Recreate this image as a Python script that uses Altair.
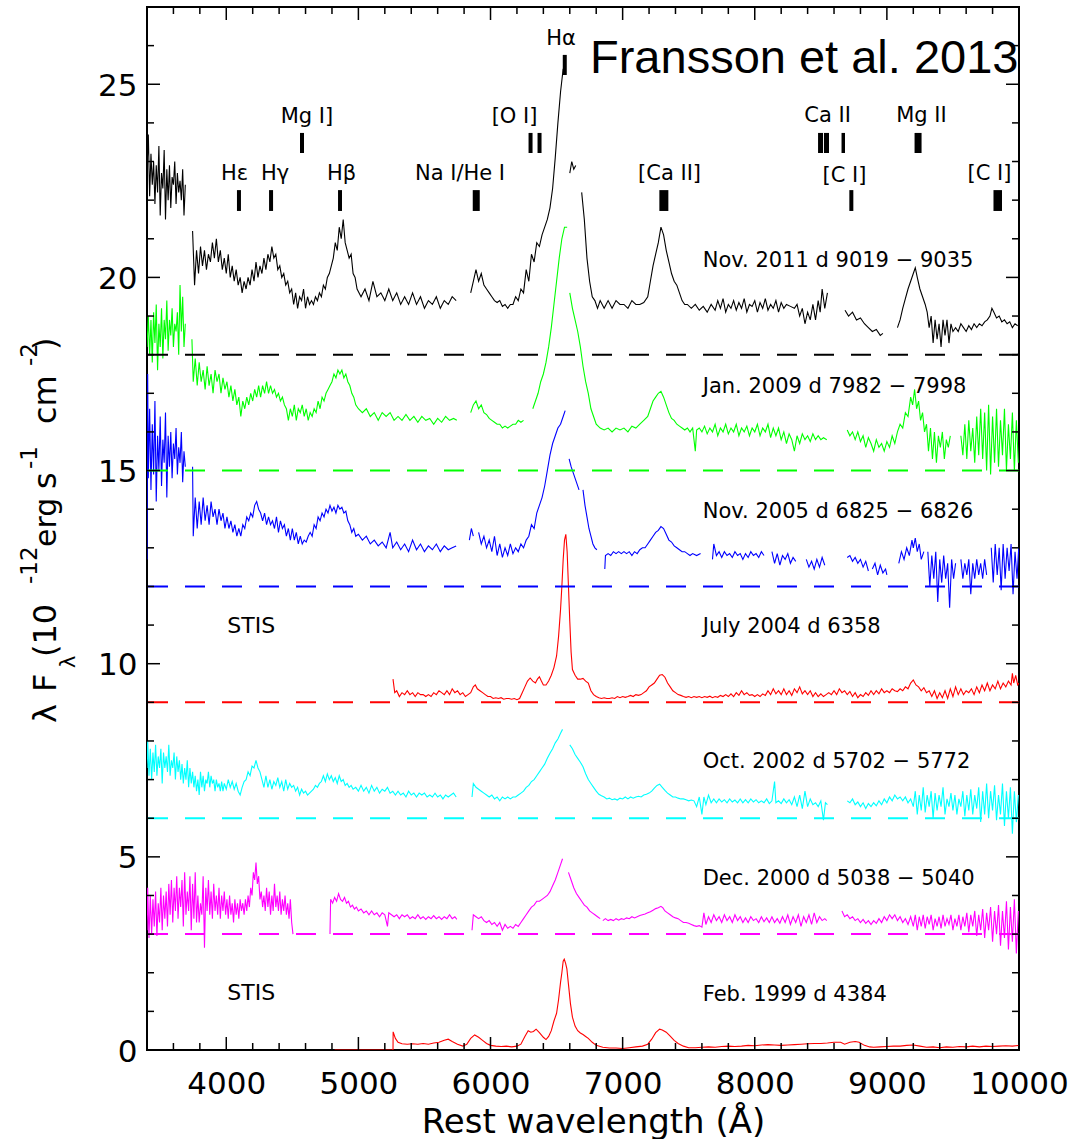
import altair as alt
import pandas as pd

# ---------------- spectra (wavelength, lambda*F_lambda incl. offset); None = gap ----------------
NOV2011 = [(3400,22.8),(3410,23.7),(3420,22.1),(3430,23.2),(3440,22.4),(3450,23.0),(3460,21.9),(3470,22.9),(3480,22.2),(3490,23.4),(3500,21.6),(3510,22.7),(3520,22.3),(3530,23.3),(3540,21.5),(3550,22.8),(3560,22.0),(3570,22.9),(3580,21.8),(3590,22.6),(3600,22.4),(3610,23.0),(3620,21.9),(3630,22.7),(3640,22.2),(3650,22.5),(3660,22.0),(3670,22.8),(3680,21.6),(3690,22.4), None,
(3745,21.2),(3760,19.8),(3775,20.7),(3790,20.1),(3805,20.8),(3820,20.3),(3835,20.7),(3850,20.2),(3865,20.6),(3880,20.4),(3895,20.9),(3910,20.5),(3925,21.0),(3940,20.4),(3955,20.7),(3970,20.2),(3985,20.5),(4000,20.1),(4015,20.6),(4030,20.0),(4045,20.3),(4060,19.9),(4075,20.2),(4090,19.8),(4105,20.0),(4120,19.6),(4135,19.9),(4150,19.7),(4165,20.0),(4180,19.8),(4195,20.2),(4210,19.9),(4225,20.4),(4240,20.0),(4255,20.3),(4270,20.1),(4285,20.5),(4300,20.2),(4315,20.6),(4330,20.4),(4345,20.8),(4360,20.5),(4375,20.6),(4390,20.2),(4405,20.3),(4420,20.0),(4435,20.1),(4450,19.8),(4465,19.9),(4480,19.6),(4495,19.7),(4510,19.3),(4525,19.6),(4540,19.2),(4555,19.5),(4570,19.4),(4585,19.7),(4600,19.2),(4615,19.5),(4630,19.3),(4645,19.4),(4660,19.3),(4675,19.5),(4690,19.4),(4705,19.6),(4720,19.5),(4735,19.8),(4750,19.7),(4765,20.0),(4780,20.1),(4795,20.3),(4810,20.5),(4825,20.9),(4840,20.7),(4855,21.3),(4870,21.0),(4885,21.5),(4900,20.9),(4915,20.7),(4930,20.5),(4945,20.6),(4960,20.1),(4975,20.0),(4990,19.7),(5020,19.5),(5050,19.7),(5080,19.4),(5110,19.9),(5140,19.5),(5170,19.6),(5200,19.4),(5230,19.7),(5260,19.4),(5290,19.6),(5320,19.3),(5350,19.5),(5380,19.3),(5410,19.6),(5440,19.3),(5470,19.5),(5500,19.2),(5530,19.4),(5560,19.3),(5590,19.5),(5620,19.2),(5650,19.4),(5680,19.3),(5710,19.5),(5740,19.4), None,
(5850,19.6),(5870,19.9),(5890,20.2),(5910,19.9),(5930,20.1),(5950,19.8),(5970,19.7),(5990,19.6),(6010,19.5),(6030,19.4),(6050,19.35),(6070,19.4),(6090,19.25),(6110,19.3),(6130,19.2),(6150,19.3),(6170,19.3),(6190,19.5),(6210,19.4),(6230,19.7),(6250,19.6),(6270,20.2),(6290,19.9),(6310,20.6),(6330,20.4),(6350,20.9),(6370,20.8),(6390,21.1),(6410,21.3),(6430,21.5),(6450,21.8),(6470,22.3),(6490,23.1),(6510,24.0),(6530,24.8),(6550,25.4), None,
(6600,22.7),(6615,23.0),(6630,22.8),(6645,22.9), None,
(6690,22.2),(6710,21.5),(6730,20.5),(6750,19.9),(6770,19.5),(6790,19.4),(6810,19.2),(6830,19.4),(6860,19.2),(6890,19.4),(6920,19.2),(6950,19.4),(6980,19.3),(7010,19.3),(7040,19.2),(7070,19.4),(7100,19.3),(7130,19.3),(7160,19.35),(7190,19.5),(7210,19.9),(7230,20.3),(7250,20.6),(7270,20.9),(7290,21.3),(7310,21.1),(7330,20.7),(7350,20.4),(7370,20.1),(7390,19.9),(7410,19.8),(7430,19.6),(7450,19.4),(7470,19.3),(7490,19.3),(7520,19.2),(7550,19.3),(7580,19.15),(7610,19.25),(7640,19.1),(7670,19.3),(7700,19.15),(7720,19.4),(7740,19.2),(7760,19.45),(7780,19.1),(7800,19.3),(7820,19.2),(7840,19.4),(7860,19.15),(7880,19.35),(7900,19.2),(7920,19.45),(7940,19.1),(7960,19.3),(7980,19.25),(8000,19.4),(8020,19.1),(8040,19.35),(8060,19.2),(8080,19.45),(8100,19.15),(8120,19.3),(8140,19.2),(8160,19.4),(8180,19.1),(8200,19.35),(8220,19.2),(8240,19.3),(8270,19.25),(8300,19.2),(8320,19.3),(8340,19.0),(8360,19.2),(8380,18.8),(8400,19.1),(8420,18.9),(8440,19.3),(8460,18.9),(8480,19.4),(8495,19.1),(8510,19.7),(8530,19.2),(8550,19.6), None,
(8683,19.15),(8710,19.0),(8740,19.1),(8770,18.9),(8800,18.95),(8830,18.8),(8860,18.7),(8890,18.6),(8920,18.65),(8950,18.5),(8970,18.55), None,
(9080,18.7),(9100,18.9),(9120,19.2),(9140,19.45),(9160,19.7),(9180,19.9),(9200,20.1),(9215,20.25),(9230,20.0),(9250,19.7),(9270,19.5),(9290,19.3),(9305,19.1),(9320,18.7),(9335,19.0),(9350,18.3),(9365,18.9),(9380,18.4),(9395,18.8),(9410,18.2),(9425,18.9),(9440,18.5),(9455,18.9),(9470,18.3),(9485,18.8),(9500,18.6),(9520,18.7),(9540,18.6),(9560,18.8),(9580,18.7),(9600,18.6),(9620,18.75),(9640,18.65),(9660,18.8),(9680,18.7),(9700,18.8),(9720,18.75),(9740,18.85),(9760,18.9),(9780,19.0),(9795,19.2),(9810,19.1),(9830,18.95),(9850,19.0),(9870,18.85),(9890,18.9),(9910,18.8),(9930,18.85),(9950,18.7),(9970,18.8),(9990,18.75)]

JAN2009 = [(3400,18.2),(3410,19.0),(3420,18.0),(3430,18.9),(3440,17.8),(3450,19.1),(3460,18.3),(3470,19.3),(3480,17.6),(3490,18.8),(3500,18.2),(3510,19.2),(3520,17.9),(3530,18.9),(3540,18.4),(3550,19.4),(3560,18.1),(3570,18.9),(3580,18.5),(3590,19.2),(3600,18.2),(3610,18.8),(3620,18.6),(3630,19.1),(3640,18.0),(3650,19.8),(3660,18.6),(3670,19.5),(3680,18.2),(3690,18.8), None,
(3740,18.4),(3750,17.3),(3765,17.9),(3780,17.2),(3795,17.8),(3810,17.3),(3825,17.6),(3840,17.1),(3855,17.7),(3870,17.2),(3885,17.5),(3900,17.0),(3915,17.6),(3930,17.3),(3945,17.5),(3960,17.0),(3975,17.4),(3990,17.1),(4005,17.3),(4020,16.9),(4035,17.2),(4050,16.8),(4065,17.1),(4080,16.7),(4095,16.9),(4110,16.4),(4125,16.8),(4140,16.6),(4155,16.9),(4170,16.7),(4185,17.0),(4200,16.8),(4215,17.1),(4230,16.9),(4245,17.2),(4260,16.9),(4275,17.2),(4290,17.0),(4305,17.3),(4320,17.0),(4335,17.2),(4350,17.0),(4365,17.1),(4380,16.9),(4395,17.0),(4410,16.8),(4425,16.9),(4440,16.7),(4455,16.6),(4470,16.3),(4485,16.6),(4500,16.4),(4515,16.7),(4530,16.3),(4545,16.6),(4560,16.5),(4575,16.7),(4590,16.4),(4605,16.6),(4620,16.3),(4635,16.5),(4650,16.4),(4665,16.6),(4680,16.5),(4695,16.8),(4710,16.6),(4725,16.9),(4740,16.8),(4755,17.0),(4770,17.1),(4785,17.2),(4800,17.3),(4815,17.5),(4830,17.4),(4845,17.6),(4860,17.5),(4875,17.6),(4890,17.4),(4905,17.5),(4920,17.3),(4935,17.2),(4950,17.0),(4965,16.9),(4980,16.7),(5000,16.6),(5030,16.5),(5060,16.6),(5090,16.4),(5120,16.5),(5150,16.3),(5180,16.5),(5210,16.4),(5240,16.5),(5270,16.3),(5300,16.4),(5330,16.3),(5360,16.45),(5390,16.3),(5420,16.4),(5450,16.25),(5480,16.4),(5510,16.3),(5540,16.35),(5570,16.2),(5600,16.35),(5630,16.25),(5660,16.4),(5690,16.3),(5720,16.35),(5745,16.3), None,
(5850,16.5),(5870,16.7),(5890,16.8),(5910,16.6),(5930,16.7),(5950,16.5),(5970,16.45),(5990,16.35),(6010,16.3),(6030,16.25),(6050,16.2),(6070,16.2),(6090,16.1),(6110,16.15),(6130,16.1),(6150,16.15),(6170,16.2),(6190,16.2),(6210,16.3),(6230,16.25),(6250,16.3), None,
(6320,16.6),(6340,16.8),(6360,17.0),(6380,17.3),(6400,17.5),(6420,17.8),(6440,18.2),(6460,18.7),(6480,19.3),(6500,19.9),(6520,20.5),(6540,21.0),(6560,21.3),(6580,21.3), None,
(6600,19.6),(6620,19.2),(6640,18.9),(6660,18.6),(6680,18.2),(6700,17.7),(6720,17.3),(6740,17.0),(6760,16.6),(6780,16.4),(6800,16.2),(6830,16.1),(6860,16.05),(6890,16.1),(6920,16.0),(6950,16.1),(6980,16.05),(7010,16.1),(7040,16.0),(7070,16.15),(7100,16.1),(7130,16.2),(7160,16.3),(7190,16.4),(7210,16.6),(7230,16.8),(7250,16.9),(7270,17.0),(7290,17.05),(7310,16.9),(7330,16.7),(7350,16.5),(7370,16.35),(7390,16.3),(7410,16.2),(7430,16.15),(7450,16.1),(7470,16.05),(7490,16.1),(7510,16.0),(7530,16.1),(7550,15.5),(7560,16.05),(7580,16.1),(7600,16.0),(7620,16.15),(7640,15.95),(7660,16.1),(7680,16.0),(7700,16.2),(7720,15.9),(7740,16.1),(7760,16.0),(7780,16.2),(7800,15.95),(7820,16.1),(7840,16.0),(7860,16.2),(7880,15.9),(7900,16.1),(7920,16.0),(7940,16.15),(7960,15.9),(7980,16.1),(8000,16.0),(8020,16.2),(8040,15.9),(8060,16.1),(8080,16.0),(8100,16.2),(8120,15.85),(8140,16.1),(8160,15.9),(8180,16.1),(8200,15.8),(8220,16.0),(8240,15.7),(8260,15.95),(8280,15.8),(8300,15.5),(8320,15.9),(8340,15.7),(8360,15.95),(8380,15.8),(8400,15.9),(8420,15.75),(8440,15.95),(8460,15.8),(8480,15.9),(8500,15.8),(8520,15.85),(8545,15.8), None,
(8700,16.05),(8720,15.9),(8740,16.0),(8760,15.8),(8780,16.0),(8800,15.75),(8820,15.9),(8840,15.6),(8860,15.85),(8880,15.7),(8900,15.5),(8920,15.8),(8940,15.6),(8960,15.7),(8980,15.5),(9000,15.75),(9020,15.6),(9040,15.9),(9060,15.7),(9080,16.0),(9100,16.2),(9120,16.1),(9140,16.5),(9160,16.4),(9180,16.9),(9195,16.7),(9210,17.1),(9225,16.6),(9240,16.8),(9255,16.3),(9270,16.5),(9285,16.0),(9300,16.2),(9315,15.5),(9330,16.1),(9345,15.3),(9360,16.0),(9375,15.2),(9390,15.9),(9405,15.6),(9420,16.0),(9435,15.3),(9450,15.8),(9465,15.6),(9480,15.9), None,
(9560,15.9),(9575,15.4),(9590,16.2),(9605,15.3),(9620,16.3),(9635,15.5),(9650,16.1),(9665,15.2),(9680,16.4),(9695,15.4),(9710,16.6),(9725,15.3),(9740,16.5),(9755,15.0),(9770,16.7),(9785,14.9),(9800,16.4),(9815,15.2),(9830,16.6),(9845,15.1),(9860,16.3),(9875,15.4),(9890,16.6),(9905,15.0),(9920,16.2),(9935,15.3),(9950,16.5),(9965,15.0),(9980,16.3),(9995,15.2)]

NOV2005 = [(3400,12.7),(3405,17.5),(3410,14.8),(3420,16.6),(3430,14.5),(3440,16.2),(3450,14.9),(3460,16.8),(3470,14.2),(3480,15.9),(3490,15.0),(3500,16.4),(3510,14.6),(3520,15.8),(3530,15.2),(3540,16.5),(3550,14.3),(3560,15.9),(3570,15.1),(3580,16.0),(3590,14.8),(3600,15.7),(3610,15.3),(3620,16.1),(3630,14.9),(3640,15.6),(3650,15.2),(3660,16.0),(3670,14.7),(3680,15.5),(3690,15.1), None,
(3745,15.1),(3750,13.3),(3765,14.3),(3780,13.5),(3795,14.2),(3810,13.6),(3825,14.3),(3840,13.7),(3855,14.1),(3870,13.6),(3885,14.2),(3900,13.8),(3915,14.0),(3930,13.6),(3945,14.0),(3960,13.7),(3975,13.9),(3990,13.5),(4005,13.8),(4020,13.5),(4035,13.7),(4050,13.4),(4065,13.6),(4080,13.3),(4095,13.5),(4110,13.3),(4125,13.6),(4140,13.5),(4155,13.8),(4170,13.7),(4185,13.9),(4200,13.8),(4215,14.1),(4230,14.2),(4245,14.0),(4260,13.9),(4275,13.7),(4290,13.9),(4305,13.6),(4320,13.8),(4335,13.6),(4350,13.7),(4365,13.5),(4380,13.8),(4395,13.4),(4410,13.7),(4425,13.5),(4440,13.6),(4455,13.3),(4470,13.5),(4485,13.2),(4500,13.5),(4515,13.2),(4530,13.4),(4545,13.1),(4560,13.3),(4575,13.1),(4590,13.2),(4605,13.15),(4620,13.3),(4635,13.4),(4650,13.3),(4665,13.6),(4680,13.5),(4695,13.8),(4710,13.7),(4725,13.9),(4740,13.8),(4755,14.0),(4770,13.9),(4785,14.1),(4800,13.95),(4815,14.05),(4830,13.9),(4845,14.1),(4860,14.0),(4875,14.05),(4890,13.9),(4905,13.95),(4920,13.7),(4935,13.6),(4950,13.4),(4965,13.5),(4980,13.3),(5000,13.35),(5030,13.2),(5060,13.3),(5090,13.1),(5120,13.2),(5150,13.05),(5180,13.15),(5210,13.0),(5240,13.4),(5260,13.0),(5290,13.15),(5320,12.95),(5350,13.1),(5380,12.9),(5410,13.2),(5440,12.95),(5470,13.1),(5500,12.9),(5530,13.05),(5560,12.95),(5590,13.1),(5620,12.9),(5650,13.05),(5680,12.95),(5710,13.0),(5740,13.05), None,
(5840,13.2),(5855,13.5),(5870,13.3), None,
(5910,13.4),(5930,13.1),(5950,13.3),(5970,13.0),(5990,13.2),(6010,12.9),(6030,13.3),(6050,12.8),(6070,13.1),(6090,12.75),(6110,13.0),(6130,12.8),(6150,13.1),(6170,12.85),(6190,13.0),(6210,12.9),(6230,13.1),(6250,13.0),(6270,13.2),(6290,13.3),(6310,13.6),(6330,13.5),(6350,13.9),(6370,14.1),(6390,14.3),(6410,14.6),(6430,15.0),(6450,15.4),(6470,15.7),(6490,15.9),(6510,16.1),(6530,16.2),(6550,16.4),(6565,16.55), None,
(6595,15.3),(6610,15.1),(6630,14.9),(6650,14.7),(6670,14.5), None,
(6700,14.5),(6715,14.1),(6730,13.8),(6745,13.5),(6760,13.3),(6775,13.1),(6790,13.0),(6805,12.95), None,
(6865,12.45),(6870,12.8),(6890,12.85),(6910,12.8),(6930,12.9),(6950,12.85),(6970,12.9),(6990,12.85),(7010,12.9),(7030,12.85),(7050,12.9),(7070,12.8),(7090,12.9),(7110,12.85),(7130,12.95),(7150,13.0),(7170,13.0),(7190,13.1),(7210,13.2),(7230,13.3),(7250,13.4),(7270,13.45),(7290,13.55),(7310,13.5),(7330,13.35),(7350,13.2),(7370,13.15),(7390,13.05),(7410,13.0),(7430,12.95),(7450,12.9),(7470,12.9),(7490,12.85),(7510,12.8),(7530,12.85),(7560,12.8),(7590,12.85), None,
(7680,12.7),(7690,13.1),(7710,12.8),(7730,12.9),(7750,12.75),(7770,12.9),(7790,12.8),(7810,12.85),(7830,12.75),(7850,12.9),(7870,12.8),(7890,12.85),(7910,12.7),(7930,12.85),(7950,12.75),(7970,12.9),(7990,12.8),(8010,12.85),(8030,12.75),(8050,12.9),(8070,12.8), None,
(8130,12.9),(8150,12.6),(8170,12.85),(8190,12.55),(8210,12.8),(8230,12.7),(8250,12.85),(8270,12.6),(8290,12.75),(8310,12.65), None,
(8390,12.7),(8410,12.5),(8430,12.65),(8450,12.45),(8470,12.7),(8490,12.5),(8510,12.75),(8530,12.55), None,
(8700,12.75),(8720,12.8),(8740,12.65),(8760,12.75),(8780,12.6),(8800,12.7),(8820,12.5),(8840,12.65),(8860,12.4), None,
(8890,12.45),(8910,12.6),(8930,12.3),(8950,12.55),(8970,12.35),(8990,12.45),(9000,12.3), None,
(9090,12.6),(9110,12.9),(9130,12.7),(9150,13.0),(9170,12.8),(9190,13.2),(9200,13.0),(9215,13.25),(9230,12.9),(9245,13.1),(9260,12.7),(9280,12.9), None,
(9310,12.9),(9325,12.0),(9340,12.8),(9355,12.2),(9370,12.9),(9385,11.6),(9400,12.7),(9415,12.1),(9430,12.8),(9445,12.2),(9460,12.6),(9475,11.45),(9490,12.7),(9505,12.2),(9520,12.6), None,
(9560,12.7),(9575,12.2),(9590,12.6),(9605,12.3),(9620,12.7),(9635,11.8),(9650,12.6),(9665,12.2),(9680,12.7),(9695,12.3),(9710,12.6),(9725,12.2),(9740,12.7),(9755,12.3), None,
(9790,13.0),(9805,12.1),(9820,13.1),(9835,12.3),(9850,13.0),(9865,11.9),(9880,13.1),(9895,12.2),(9910,13.0),(9925,12.4),(9940,13.1),(9955,11.8),(9970,12.9),(9985,12.2),(9998,13.0)]

JULY2004 = [(5262,9.6),(5275,9.25),(5290,9.3),(5310,9.15),(5330,9.25),(5350,9.2),(5370,9.3),(5390,9.2),(5410,9.25),(5430,9.15),(5450,9.25),(5470,9.2),(5490,9.2),(5510,9.15),(5530,9.2),(5550,9.15),(5570,9.25),(5590,9.2),(5610,9.3),(5630,9.25),(5650,9.2),(5670,9.3),(5690,9.2),(5710,9.35),(5730,9.25),(5750,9.3),(5770,9.2),(5790,9.25),(5810,9.15),(5830,9.2),(5850,9.25),(5870,9.4),(5885,9.45),(5900,9.35),(5920,9.3),(5940,9.25),(5960,9.2),(5980,9.15),(6000,9.15),(6020,9.1),(6040,9.12),(6060,9.1),(6080,9.12),(6100,9.08),(6120,9.1),(6140,9.1),(6160,9.08),(6180,9.1),(6200,9.07),(6220,9.1),(6240,9.25),(6260,9.4),(6280,9.55),(6300,9.63),(6320,9.55),(6340,9.5),(6355,9.6),(6370,9.66),(6385,9.55),(6400,9.45),(6420,9.45),(6440,9.55),(6460,9.7),(6480,9.9),(6500,10.2),(6515,10.7),(6530,11.4),(6540,12.0),(6550,12.7),(6560,13.2),(6570,13.35),(6580,12.9),(6590,12.0),(6600,11.1),(6610,10.3),(6620,9.85),(6640,9.7),(6660,9.6),(6680,9.6),(6700,9.62),(6720,9.55),(6740,9.5),(6760,9.3),(6780,9.2),(6800,9.15),(6820,9.12),(6840,9.1),(6860,9.12),(6880,9.1),(6900,9.1),(6920,9.12),(6940,9.1),(6960,9.15),(6980,9.12),(7000,9.15),(7020,9.13),(7040,9.15),(7060,9.18),(7080,9.15),(7100,9.2),(7120,9.18),(7140,9.2),(7160,9.25),(7180,9.3),(7200,9.4),(7220,9.45),(7240,9.5),(7260,9.6),(7280,9.7),(7300,9.72),(7320,9.65),(7340,9.5),(7360,9.4),(7380,9.3),(7400,9.25),(7420,9.2),(7440,9.18),(7460,9.15),(7480,9.13),(7500,9.15),(7520,9.12),(7540,9.15),(7560,9.13),(7580,9.15),(7600,9.12),(7620,9.15),(7640,9.13),(7660,9.16),(7680,9.12),(7700,9.15),(7720,9.13),(7740,9.18),(7760,9.15),(7780,9.2),(7800,9.15),(7820,9.22),(7840,9.15),(7860,9.25),(7880,9.18),(7900,9.3),(7920,9.2),(7940,9.25),(7960,9.18),(7980,9.2),(8000,9.15),(8020,9.2),(8040,9.15),(8060,9.22),(8080,9.18),(8100,9.3),(8120,9.2),(8140,9.35),(8160,9.22),(8180,9.3),(8200,9.2),(8220,9.35),(8240,9.2),(8260,9.3),(8280,9.18),(8300,9.35),(8320,9.25),(8340,9.4),(8360,9.22),(8380,9.3),(8400,9.2),(8420,9.3),(8440,9.15),(8460,9.25),(8480,9.15),(8500,9.22),(8520,9.15),(8540,9.2),(8560,9.25),(8580,9.2),(8600,9.3),(8620,9.2),(8640,9.35),(8660,9.25),(8680,9.3),(8700,9.2),(8720,9.28),(8740,9.15),(8760,9.25),(8780,9.12),(8800,9.2),(8820,9.15),(8840,9.25),(8860,9.18),(8880,9.3),(8900,9.2),(8920,9.3),(8940,9.22),(8960,9.35),(8980,9.25),(9000,9.3),(9020,9.25),(9040,9.35),(9060,9.3),(9080,9.28),(9100,9.35),(9120,9.3),(9140,9.4),(9160,9.35),(9180,9.5),(9200,9.58),(9220,9.45),(9240,9.4),(9260,9.3),(9280,9.38),(9300,9.25),(9320,9.3),(9340,9.15),(9360,9.3),(9380,9.1),(9400,9.25),(9420,9.12),(9440,9.3),(9460,9.1),(9480,9.35),(9500,9.15),(9520,9.4),(9540,9.2),(9560,9.35),(9580,9.2),(9600,9.3),(9620,9.25),(9640,9.35),(9660,9.2),(9680,9.4),(9700,9.25),(9720,9.45),(9740,9.3),(9760,9.5),(9780,9.3),(9800,9.45),(9820,9.35),(9840,9.55),(9860,9.35),(9880,9.5),(9900,9.4),(9920,9.55),(9940,9.45),(9950,9.75),(9960,9.5),(9975,9.7),(9990,9.45),(10000,9.5)]

OCT2002 = [(3400,7.3),(3405,8.0),(3415,7.1),(3425,7.8),(3435,7.0),(3445,7.7),(3455,7.2),(3465,7.9),(3475,7.1),(3485,7.6),(3495,7.3),(3505,7.8),(3515,6.9),(3525,7.7),(3535,7.3),(3545,7.6),(3555,7.2),(3565,7.9),(3575,7.1),(3585,7.5),(3595,7.3),(3605,7.7),(3615,7.0),(3625,7.6),(3635,7.2),(3645,7.5),(3655,7.0),(3665,7.4),(3675,6.9),(3685,7.3),(3695,7.0),(3705,7.5),(3715,6.8),(3725,7.3),(3735,6.9),(3745,7.2),(3755,6.8),(3765,7.1),(3775,6.7),(3785,7.0),(3795,6.6),(3805,7.2),(3815,6.8),(3825,7.1),(3835,6.7),(3845,7.0),(3855,6.9),(3865,7.2),(3875,6.8),(3885,7.1),(3895,6.9),(3905,7.0),(3915,6.7),(3925,7.0),(3935,6.8),(3945,6.9),(3955,6.7),(3965,6.95),(3975,6.7),(3985,6.9),(4000,6.75),(4015,7.0),(4030,6.8),(4045,6.95),(4060,6.75),(4075,6.9),(4090,6.7),(4105,6.6),(4120,6.8),(4135,6.95),(4150,7.0),(4165,7.2),(4180,7.1),(4195,7.35),(4210,7.3),(4225,7.5),(4240,7.3),(4255,7.2),(4270,7.0),(4285,6.8),(4300,7.1),(4315,6.8),(4330,7.0),(4345,6.75),(4360,6.95),(4375,6.85),(4390,7.05),(4405,6.8),(4420,6.95),(4435,6.7),(4450,7.0),(4465,6.75),(4480,6.9),(4495,6.8),(4510,6.85),(4525,6.7),(4540,6.8),(4555,6.6),(4570,6.75),(4585,6.65),(4600,6.7),(4615,6.6),(4630,6.65),(4645,6.7),(4660,6.75),(4675,6.85),(4690,6.8),(4705,6.9),(4720,6.95),(4735,7.1),(4750,6.95),(4765,7.15),(4780,7.0),(4795,7.1),(4810,6.95),(4825,7.05),(4840,6.9),(4855,7.1),(4870,6.95),(4885,7.0),(4900,6.85),(4915,6.9),(4930,6.8),(4945,6.85),(4960,6.75),(4980,6.8),(5000,6.7),(5020,6.85),(5040,6.7),(5060,6.8),(5080,6.65),(5100,6.85),(5120,6.7),(5140,6.8),(5160,6.65),(5180,6.75),(5200,6.7),(5220,6.8),(5240,6.65),(5260,6.7),(5280,6.6),(5300,6.7),(5320,6.6),(5340,6.65),(5360,6.55),(5380,6.7),(5400,6.6),(5420,6.65),(5440,6.55),(5460,6.65),(5480,6.6),(5500,6.65),(5520,6.55),(5540,6.6),(5560,6.55),(5580,6.65),(5600,6.55),(5620,6.6),(5640,6.5),(5660,6.6),(5680,6.55),(5700,6.6),(5720,6.65),(5740,6.55), None,
(5860,6.55),(5870,6.9),(5890,6.8),(5910,6.75),(5930,6.7),(5950,6.65),(5970,6.6),(5990,6.55),(6010,6.6),(6030,6.5),(6050,6.55),(6070,6.45),(6090,6.55),(6110,6.5),(6130,6.55),(6150,6.5),(6170,6.55),(6190,6.55),(6210,6.6),(6230,6.65),(6250,6.7),(6270,6.8),(6290,6.85),(6310,6.95),(6330,7.0),(6350,7.1),(6370,7.2),(6390,7.3),(6410,7.4),(6430,7.55),(6450,7.68),(6470,7.8),(6490,7.95),(6510,8.05),(6530,8.2),(6545,8.3), None,
(6600,7.9),(6620,7.8),(6640,7.65),(6660,7.55),(6680,7.45),(6700,7.33),(6720,7.15),(6740,7.0),(6760,6.9),(6780,6.8),(6800,6.7),(6820,6.62),(6840,6.58),(6860,6.55),(6880,6.5),(6900,6.52),(6920,6.48),(6940,6.5),(6960,6.47),(6980,6.52),(7000,6.5),(7020,6.55),(7040,6.5),(7060,6.55),(7080,6.52),(7100,6.55),(7120,6.57),(7140,6.55),(7160,6.6),(7180,6.62),(7200,6.65),(7220,6.7),(7240,6.78),(7260,6.85),(7280,6.88),(7300,6.8),(7320,6.72),(7340,6.65),(7360,6.6),(7380,6.55),(7400,6.55),(7420,6.52),(7440,6.5),(7460,6.5),(7480,6.48),(7500,6.45),(7520,6.47),(7540,6.45),(7560,6.3),(7580,6.55),(7600,6.1),(7615,6.55),(7630,6.35),(7650,6.6),(7670,6.4),(7690,6.5),(7710,6.4),(7730,6.5),(7750,6.42),(7770,6.48),(7790,6.4),(7810,6.5),(7830,6.42),(7850,6.47),(7870,6.4),(7890,6.5),(7910,6.4),(7930,6.48),(7950,6.4),(7970,6.5),(7990,6.42),(8010,6.48),(8030,6.4),(8050,6.45),(8070,6.4),(8090,6.5),(8110,6.38),(8130,6.45),(8150,6.95),(8160,6.4),(8180,6.45),(8200,6.38),(8220,6.5),(8240,6.4),(8260,6.48),(8280,6.35),(8300,6.55),(8320,6.3),(8340,6.6),(8360,6.25),(8380,6.7),(8400,6.3),(8420,6.5),(8440,6.35),(8460,6.4),(8480,6.3),(8500,6.45),(8520,5.95),(8535,6.4),(8550,6.35), None,
(8700,6.45),(8720,6.4),(8740,6.5),(8760,6.35),(8780,6.42),(8800,6.3),(8820,6.4),(8840,6.25),(8860,6.38),(8880,6.3),(8900,6.4),(8920,6.32),(8940,6.45),(8960,6.35),(8980,6.5),(9000,6.4),(9020,6.55),(9040,6.45),(9060,6.6),(9080,6.5),(9100,6.55),(9120,6.45),(9140,6.55),(9160,6.4),(9180,6.5),(9200,6.3),(9215,6.7),(9230,6.1),(9245,6.6),(9260,6.2),(9275,6.8),(9290,6.15),(9305,6.6),(9320,6.3),(9335,6.7),(9350,6.0),(9365,6.65),(9380,6.2),(9395,6.6),(9410,6.3),(9425,6.8),(9440,6.1),(9455,6.5),(9470,6.3),(9485,6.65),(9500,6.2),(9515,6.6),(9530,6.1),(9545,6.5),(9560,6.3),(9575,6.7),(9590,6.05),(9605,6.6),(9620,6.2),(9635,6.75),(9650,6.1),(9665,6.6),(9680,6.25),(9695,6.8),(9710,5.9),(9725,6.7),(9740,6.1),(9755,6.9),(9770,6.0),(9785,6.7),(9800,6.2),(9815,6.85),(9830,5.95),(9845,6.6),(9860,6.1),(9875,6.9),(9890,5.8),(9905,6.7),(9920,6.0),(9935,6.8),(9950,5.6),(9965,6.7),(9980,5.9),(9995,6.6)]

DEC2000 = [(3400,3.1),(3405,4.2),(3415,2.9),(3425,4.0),(3435,3.0),(3445,3.9),(3455,3.2),(3465,4.1),(3475,2.95),(3485,3.8),(3495,3.3),(3505,4.2),(3515,3.1),(3525,4.0),(3535,3.4),(3545,4.1),(3555,3.2),(3565,4.3),(3575,3.5),(3585,4.4),(3595,3.3),(3605,4.2),(3615,3.6),(3625,4.5),(3635,3.4),(3645,4.2),(3655,3.7),(3665,4.4),(3675,3.2),(3685,4.6),(3695,3.5),(3705,4.1),(3715,3.6),(3725,4.5),(3735,3.1),(3745,4.3),(3755,3.4),(3765,4.6),(3775,3.3),(3785,4.0),(3795,3.3),(3805,3.8),(3815,3.5),(3825,4.5),(3835,2.65),(3845,4.2),(3855,3.6),(3865,4.4),(3875,3.5),(3885,4.1),(3895,3.4),(3905,4.3),(3915,3.6),(3925,4.0),(3935,3.5),(3945,4.2),(3955,3.4),(3965,4.0),(3975,3.6),(3985,4.1),(3995,3.5),(4005,3.9),(4015,3.4),(4025,4.0),(4035,3.5),(4045,3.8),(4055,3.3),(4065,3.9),(4075,3.5),(4085,3.8),(4095,3.4),(4105,3.9),(4115,3.6),(4125,3.8),(4135,3.5),(4145,3.9),(4155,3.6),(4165,4.0),(4175,3.7),(4185,4.2),(4195,4.0),(4205,4.6),(4215,4.4),(4225,4.85),(4235,4.3),(4245,4.5),(4255,3.9),(4265,4.1),(4275,3.7),(4285,4.0),(4295,3.6),(4305,4.2),(4315,3.7),(4325,4.1),(4335,3.5),(4345,4.0),(4355,3.6),(4365,4.3),(4375,3.7),(4385,4.0),(4395,3.6),(4405,4.1),(4415,3.5),(4425,3.9),(4435,3.6),(4445,4.0),(4455,3.5),(4465,3.8),(4475,3.4),(4485,3.9),(4495,3.3),(4505,3.0), None,
(4785,3.0),(4790,3.9),(4805,3.8),(4820,3.95),(4835,3.85),(4850,4.05),(4865,3.9),(4880,3.85),(4895,3.95),(4910,3.8),(4925,3.85),(4940,3.7),(4955,3.75),(4970,3.65),(4985,3.7),(5000,3.6),(5020,3.65),(5040,3.55),(5060,3.6),(5080,3.5),(5100,3.6),(5120,3.5),(5140,3.55),(5160,3.45),(5180,3.55),(5200,3.5),(5220,3.2),(5230,3.55),(5250,3.5),(5270,3.45),(5290,3.5),(5310,3.4),(5330,3.5),(5350,3.45),(5370,3.5),(5390,3.4),(5410,3.45),(5430,3.4),(5450,3.5),(5470,3.4),(5490,3.45),(5510,3.38),(5530,3.45),(5550,3.4),(5570,3.48),(5590,3.4),(5610,3.45),(5630,3.38),(5650,3.45),(5670,3.4),(5690,3.5),(5710,3.4),(5730,3.45),(5745,3.38), None,
(5860,3.1),(5870,3.5),(5890,3.45),(5910,3.4),(5930,3.45),(5950,3.35),(5970,3.3),(5990,3.35),(6010,3.25),(6030,3.3),(6050,3.2),(6070,3.3),(6090,3.1),(6110,3.25),(6130,3.15),(6150,3.2),(6170,3.15),(6190,3.25),(6210,3.2),(6230,3.3),(6250,3.4),(6270,3.5),(6290,3.6),(6310,3.7),(6330,3.75),(6350,3.85),(6370,3.85),(6390,3.9),(6410,3.95),(6430,4.0),(6450,4.1),(6470,4.25),(6490,4.4),(6510,4.6),(6530,4.8),(6545,4.95), None,
(6590,4.6),(6610,4.4),(6630,4.2),(6650,4.05),(6670,3.95),(6690,3.85),(6710,3.75),(6730,3.7),(6750,3.6),(6770,3.55),(6790,3.5),(6810,3.45),(6830,3.4), None,
(6850,3.35),(6870,3.4),(6890,3.35),(6910,3.38),(6930,3.35),(6950,3.4),(6970,3.36),(6990,3.4),(7010,3.38),(7030,3.42),(7050,3.4),(7070,3.45),(7090,3.42),(7110,3.45),(7130,3.48),(7150,3.5),(7170,3.52),(7190,3.55),(7210,3.58),(7230,3.62),(7250,3.66),(7270,3.68),(7290,3.72),(7305,3.68),(7320,3.6),(7340,3.55),(7360,3.5),(7380,3.45),(7400,3.42),(7420,3.4),(7440,3.35),(7460,3.3),(7480,3.3),(7500,3.28),(7520,3.25),(7540,3.22),(7560,3.2),(7580,3.22),(7600,3.18),(7615,3.55),(7630,3.25),(7650,3.45),(7670,3.3),(7690,3.5),(7710,3.35),(7730,3.45),(7750,3.3),(7770,3.5),(7790,3.35),(7810,3.45),(7830,3.3),(7850,3.5),(7870,3.35),(7890,3.45),(7910,3.3),(7930,3.42),(7950,3.3),(7970,3.45),(7990,3.35),(8010,3.4),(8030,3.3),(8050,3.45),(8070,3.32),(8090,3.42),(8110,3.3),(8130,3.45),(8150,3.3),(8170,3.4),(8190,3.28),(8210,3.45),(8230,3.3),(8250,3.5),(8270,3.25),(8290,3.45),(8310,3.3),(8330,3.5),(8350,3.2),(8370,3.45),(8390,3.3),(8410,3.5),(8430,3.25),(8450,3.55),(8470,3.3),(8490,3.45),(8510,3.35),(8530,3.4),(8545,3.35), None,
(8660,3.6),(8680,3.45),(8700,3.5),(8720,3.4),(8740,3.45),(8760,3.35),(8780,3.4),(8800,3.3),(8820,3.38),(8840,3.28),(8860,3.35),(8880,3.25),(8900,3.35),(8920,3.28),(8940,3.4),(8960,3.3),(8980,3.45),(9000,3.35),(9020,3.5),(9040,3.4),(9060,3.5),(9080,3.35),(9100,3.45),(9120,3.3),(9140,3.4),(9160,3.25),(9180,3.45),(9200,3.2),(9215,3.5),(9230,3.1),(9245,3.45),(9260,3.2),(9275,3.5),(9290,3.15),(9305,3.45),(9320,3.25),(9335,3.5),(9350,3.1),(9365,3.4),(9380,3.2),(9395,3.45),(9410,3.15),(9425,3.5),(9440,3.2),(9455,3.4),(9470,3.25),(9485,3.5),(9500,3.1),(9515,3.4),(9530,3.2),(9545,3.5),(9560,3.1),(9575,3.45),(9590,3.2),(9605,3.55),(9620,3.05),(9635,3.5),(9650,3.2),(9665,3.6),(9680,2.95),(9695,3.5),(9710,3.1),(9725,3.65),(9740,2.9),(9755,3.55),(9770,3.1),(9785,3.7),(9800,2.8),(9815,3.6),(9830,3.0),(9845,3.75),(9860,2.7),(9875,3.6),(9890,2.9),(9905,3.85),(9920,2.6),(9935,3.7),(9950,2.8),(9965,3.9),(9980,2.5),(9995,3.6)]

FEB1999 = [(4820,0.0),(5000,0.0),(5262,0.0),(5263,0.47),(5280,0.3),(5300,0.2),(5330,0.16),(5370,0.15),(5410,0.16),(5450,0.15),(5490,0.17),(5530,0.15),(5570,0.18),(5610,0.2),(5650,0.25),(5680,0.28),(5710,0.22),(5750,0.15),(5790,0.1),(5820,0.15),(5850,0.3),(5880,0.39),(5910,0.33),(5940,0.25),(5970,0.17),(6000,0.12),(6040,0.1),(6080,0.09),(6120,0.1),(6160,0.08),(6200,0.1),(6230,0.15),(6260,0.35),(6285,0.5),(6305,0.46),(6325,0.48),(6345,0.54),(6370,0.45),(6400,0.33),(6420,0.27),(6440,0.35),(6460,0.5),(6480,0.75),(6500,0.95),(6515,1.3),(6530,1.75),(6540,2.0),(6550,2.3),(6558,2.35),(6568,2.25),(6578,2.1),(6590,1.7),(6605,1.2),(6620,0.85),(6640,0.62),(6660,0.5),(6680,0.44),(6700,0.4),(6720,0.35),(6740,0.3),(6770,0.2),(6800,0.12),(6850,0.07),(6900,0.05),(6950,0.05),(7000,0.04),(7050,0.06),(7100,0.08),(7150,0.1),(7190,0.15),(7220,0.28),(7250,0.45),(7280,0.54),(7300,0.52),(7330,0.46),(7360,0.36),(7390,0.25),(7420,0.17),(7460,0.1),(7500,0.06),(7550,0.06),(7600,0.07),(7650,0.08),(7700,0.07),(7750,0.09),(7800,0.1),(7850,0.09),(7900,0.1),(7950,0.12),(8000,0.11),(8050,0.13),(8100,0.14),(8150,0.13),(8200,0.12),(8250,0.13),(8300,0.14),(8350,0.15),(8400,0.16),(8450,0.17),(8500,0.17),(8550,0.18),(8600,0.2),(8650,0.2),(8680,0.15),(8720,0.2),(8760,0.22),(8790,0.2),(8830,0.12),(8870,0.08),(8900,0.07),(8950,0.08),(9000,0.09),(9050,0.1),(9100,0.1),(9150,0.12),(9200,0.13),(9250,0.1),(9300,0.07),(9350,0.08),(9400,0.06),(9450,0.08),(9500,0.07),(9550,0.09),(9600,0.08),(9650,0.1),(9700,0.08),(9750,0.1),(9800,0.09),(9850,0.1),(9900,0.11),(9950,0.1),(10000,0.12)]

SERIES_NAMES = ["Feb. 1999", "Dec. 2000", "Oct. 2002", "July 2004", "Nov. 2005", "Jan. 2009", "Nov. 2011"]
SERIES_COLORS = ["#ff0000", "#ff00ff", "#00ffff", "#ff0000", "#0000ff", "#00ff00", "#000000"]
SERIES_DATA = [FEB1999, DEC2000, OCT2002, JULY2004, NOV2005, JAN2009, NOV2011]

# dashed zero-levels of the offset spectra
BASE_LEVELS = [3, 6, 9, 12, 15, 18]
BASE_COLORS = ["#ff00ff", "#00ffff", "#ff0000", "#0000ff", "#00ff00", "#000000"]

# spectral date labels
DATE_TEXT = ["Nov. 2011 d 9019 \u2212 9035", "Jan. 2009 d 7982 \u2212 7998", "Nov. 2005 d 6825 \u2212 6826",
             "July 2004 d 6358", "Oct. 2002 d 5702 \u2212 5772", "Dec. 2000 d 5038 \u2212 5040", "Feb. 1999 d 4384"]
DATE_Y = [20.28, 17.01, 13.77, 10.79, 7.30, 4.27, 1.28]
DATE_WL = 7606
STIS_Y = [10.79, 1.29]
STIS_WL = 4008

# line identifications
ID_WL = [4096, 4339, 4573, 4861, 5892, 6303, 6371, 6562, 7312, 8498, 8543, 8670, 8731, 9236, 9839]
ID_ROW = ["lo", "lo", "up", "lo", "lo", "up", "up", "ha", "lo", "up", "up", "up", "lo", "up", "lo"]
ID_WIDTH = [4, 4, 4, 4, 7, 4, 4, 4, 9, 5, 5, 3.5, 4, 7, 8.5]
ROW_Y0 = {"lo": 21.72, "up": 23.22, "ha": 25.24}
ROW_Y1 = {"lo": 22.26, "up": 23.74, "ha": 25.76}

ID_LABELS = ["H\u03b5", "H\u03b3", "Mg I]", "H\u03b2", "Na I/He I", "[O I]", "H\u03b1", "[Ca II]",
             "Ca II", "[C I]", "Mg II", "[C I]"]
ID_LABEL_WL = [4062, 4369, 4611, 4872, 5769, 6182, 6534, 7355, 8551, 8679, 9262, 9777]
ID_LABEL_Y = [22.52, 22.52, 24.0, 22.52, 22.52, 24.0, 26.02, 22.52, 24.02, 22.47, 24.02, 22.52]

# axis ticks
X_LABELS = [4000, 5000, 6000, 7000, 8000, 9000, 10000]
X_MINOR = [w for w in range(3600, 10000, 200) if w % 1000 != 0]
Y_LABELS = [0, 5, 10, 15, 20, 25]
Y_MINOR = [v for v in range(1, 27) if v % 5 != 0]

# ---------------- build tables ----------------
rows = []
for name, pts in zip(SERIES_NAMES, SERIES_DATA):
    seg = 0
    for p in pts:
        if p is None:
            seg += 1
            continue
        rows.append({"series": name, "seg": f"{name}-{seg}", "wl": p[0], "flux": p[1]})
spec = pd.DataFrame(rows)

base_df = pd.DataFrame({"flux": BASE_LEVELS, "c": BASE_COLORS})
ids_df = pd.DataFrame({"wl": ID_WL, "flux": [ROW_Y0[r] for r in ID_ROW],
                       "y1": [ROW_Y1[r] for r in ID_ROW], "w": ID_WIDTH})
idlab_df = pd.DataFrame({"wl": ID_LABEL_WL, "flux": ID_LABEL_Y, "t": ID_LABELS})
date_df = pd.DataFrame({"wl": [DATE_WL] * len(DATE_TEXT), "flux": DATE_Y, "t": DATE_TEXT})
stis_df = pd.DataFrame({"wl": [STIS_WL] * 2, "flux": STIS_Y, "t": ["STIS", "STIS"]})

W, H = 872, 1043
xs = alt.Scale(domain=[3400, 10000], nice=False, zero=False)
ys = alt.Scale(domain=[0, 27], nice=False, zero=False)
FONT = "DejaVu Sans"

xaxis = alt.Axis(values=X_LABELS, format="d", labelFont=FONT, labelFontSize=31, labelColor="black",
                 ticks=False, tickSize=0, domain=False, grid=False, labelPadding=43,
                 labelBaseline="alphabetic", labelOverlap=False, labelFlush=False,
                 title="Rest wavelength (\u00c5)", titleFont=FONT, titleFontSize=34,
                 titleFontWeight="normal", titleColor="black", titleX=446, titleY=82,
                 titleBaseline="alphabetic", titleAlign="center", titleAnchor="start")
yaxis = alt.Axis(values=Y_LABELS, format="d", labelFont=FONT, labelFontSize=31, labelColor="black",
                 ticks=False, tickSize=0, domain=False, grid=False, labelPadding=10,
                 labelBaseline="middle", labelOverlap=False, labelFlush=False, labelOffset=2, title="")

X = alt.X("wl:Q", scale=xs, axis=xaxis)
Y = alt.Y("flux:Q", scale=ys, axis=yaxis)

baselines = alt.Chart(base_df).mark_rule(strokeDash=[20, 17], strokeWidth=2).encode(
    y=Y, color=alt.Color("c:N", scale=None))

lines = alt.Chart(spec).mark_line(strokeWidth=1.1, clip=True).encode(
    x=X, y=Y,
    color=alt.Color("series:N", scale=alt.Scale(domain=SERIES_NAMES, range=SERIES_COLORS), legend=None),
    detail="seg:N",
)

idmarks = alt.Chart(ids_df).mark_rule(color="black").encode(
    x=X, y=Y, y2="y1:Q", strokeWidth=alt.StrokeWidth("w:Q", scale=None))

idlabels = alt.Chart(idlab_df).mark_text(font=FONT, fontSize=21, color="black", align="center",
                                          baseline="alphabetic").encode(x=X, y=Y, text="t:N")

datelabels = alt.Chart(date_df).mark_text(font=FONT, fontSize=21, color="black", align="left",
                                           baseline="alphabetic").encode(x=X, y=Y, text="t:N")

stislabels = alt.Chart(stis_df).mark_text(font=FONT, fontSize=22, color="black", align="left",
                                           baseline="alphabetic").encode(x=X, y=Y, text="t:N")

# inward ticks on all four sides
def xticks(vals, length):
    d = pd.DataFrame({"wl": vals})
    bot = alt.Chart(d).mark_rule(color="black", strokeWidth=1.5).encode(
        x=X, y=alt.value(H), y2=alt.value(H - length))
    top = alt.Chart(d).mark_rule(color="black", strokeWidth=1.5).encode(
        x=X, y=alt.value(0), y2=alt.value(length))
    return [bot, top]

def yticks(vals, length):
    d = pd.DataFrame({"flux": vals})
    left = alt.Chart(d).mark_rule(color="black", strokeWidth=1.5).encode(
        y=Y, x=alt.value(0), x2=alt.value(length))
    right = alt.Chart(d).mark_rule(color="black", strokeWidth=1.5).encode(
        y=Y, x=alt.value(W), x2=alt.value(W - length))
    return [left, right]

tick_layers = xticks(X_LABELS, 13) + xticks(X_MINOR, 7) + yticks(Y_LABELS, 13) + yticks(Y_MINOR, 7)

one = pd.DataFrame({"k": [0]})
LEFT, TOP = 147, 7

def free_text(txt, ax, ay, size, angle=0, font=FONT):
    return alt.Chart(one).mark_text(text=txt, font=font, fontSize=size, color="black", align="left",
                                    baseline="alphabetic", angle=angle).encode(
        x=alt.value(ax - LEFT), y=alt.value(ay - TOP))

# rotated y-axis title, assembled from normal, subscript and superscript pieces
YT_PARTS = [("\u03bb", 56, 723, 32), ("F", 56, 692, 32), ("\u03bb", 75, 668, 21), ("(10", 56, 657, 32),
            ("-12", 37, 584, 23), ("erg", 56, 547, 30), ("s", 56, 489, 32), ("-1", 37, 469, 23),
            ("cm", 56, 424, 32), ("-2", 37, 366, 23), (")", 56, 350, 32)]
ytitle = [free_text(t, x, y, s, angle=270) for t, x, y, s in YT_PARTS]

fransson = free_text("Fransson et al. 2013", 590, 73, 47, font="Liberation Sans")

chart = alt.layer(
    lines, baselines, idmarks, idlabels, datelabels, stislabels, *tick_layers, *ytitle, fransson
).properties(
    width=W, height=H,
    autosize=alt.AutoSizeParams(type="none"),
    padding={"left": LEFT, "top": TOP, "right": 1088 - LEFT - W, "bottom": 1139 - TOP - H},
    background="white",
).configure_view(stroke="black", strokeWidth=2)

chart.save("out.html", embed_options={"renderer": "svg", "actions": False})
